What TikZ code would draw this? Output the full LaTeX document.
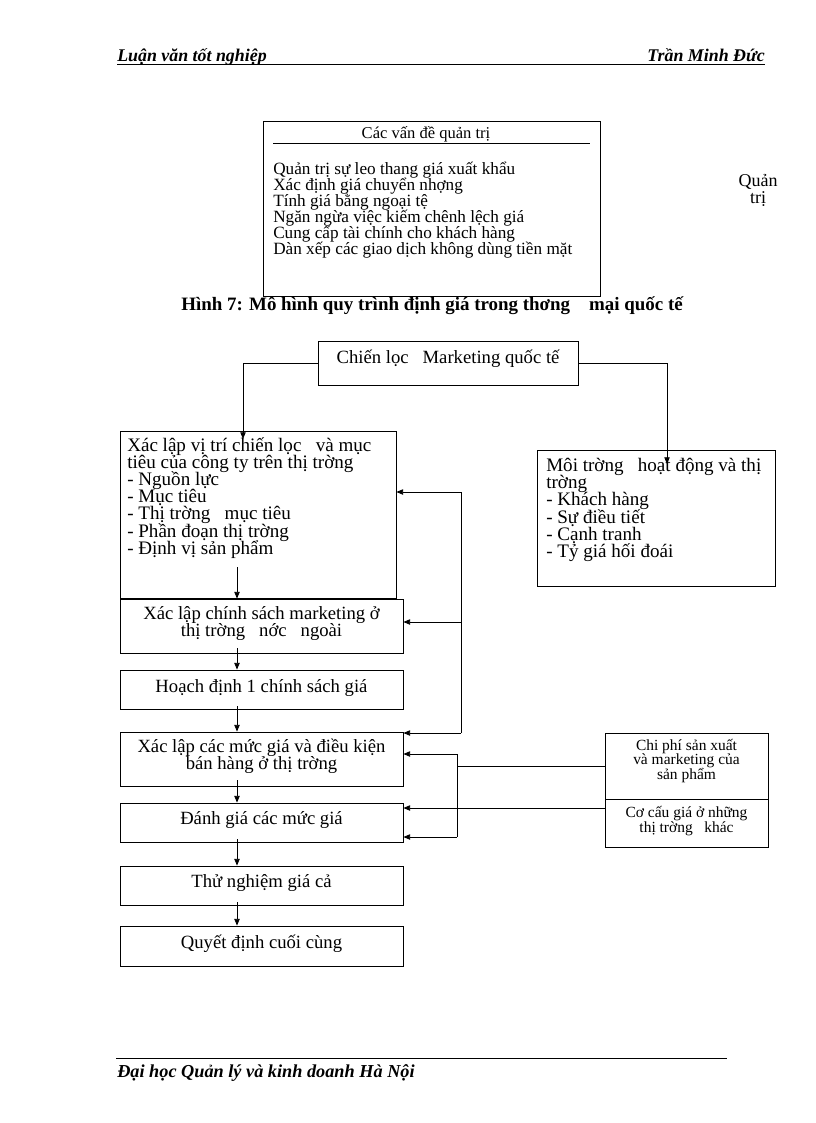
\documentclass[tikz,border=0pt]{standalone}
\usepackage{fontspec}
\setmainfont{Liberation Serif}
\usetikzlibrary{fit,arrows.meta,calc}
\newcommand{\tightlines}{\lineskiplimit=-50pt\lineskip=0pt}
\begin{document}
\begin{tikzpicture}[x=0.75pt,y=-0.75pt,
  bx/.style={draw, line width=0.6pt, inner sep=0pt},
  arr/.style={line width=0.6pt, -{Triangle[length=5pt,width=4pt]}},
  ln/.style={line width=0.6pt},
  txt/.style={inner sep=0pt, align=left, font=\fontsize{14.3}{12.9}\selectfont\tightlines},
  ctxt/.style={inner sep=0pt, align=center, font=\fontsize{14}{12.9}\selectfont\tightlines},
  stxt/.style={inner sep=0pt, align=center, font=\fontsize{11.6}{11.2}\selectfont\tightlines},
  hdr/.style={inner sep=0pt, font=\fontsize{13.4}{15}\selectfont\bfseries\itshape}]
\useasboundingbox (0,0) rectangle (816,1123);

% header and footer
\node[hdr, anchor=base west] (hl) at (117,62) {Luận văn tốt nghiệp};
\node[hdr, anchor=base east] (hr) at (765,62) {Trần Minh Đức};
\draw[line width=0.7pt] (117,64.5) -- (765,64.5);
\draw[line width=0.7pt] (116,1058) -- (727,1058);
\node[hdr, anchor=base west, font=\fontsize{13.7}{15}\selectfont\bfseries\itshape] (ft) at (117,1077) {Đại học Quản lý và kinh doanh Hà Nội};

% top box
\node[bx, fit={(263,121) (600,296)}] (top) {};
\node[inner sep=0pt, font=\fontsize{12.4}{13}\selectfont] (toptitle) at (426,134) {Các vấn đề quản trị};
\draw[ln] (273,143) -- (590,143);
\node[txt, anchor=north west, font=\fontsize{12.9}{12}\selectfont\tightlines] (toplist) at (273,162)
  {Quản trị sự leo thang giá xuất khẩu\\Xác định giá chuyển nhợng\\Tính giá bằng ngoại tệ\\Ngăn ngừa việc kiếm chênh lệch giá\\Cung cấp tài chính cho khách hàng\\Dàn xếp các giao dịch không dùng tiền mặt};
\node[inner sep=0pt, font=\fontsize{13.5}{12}\selectfont] (qt1) at (758,182) {Quản};
\node[inner sep=0pt, font=\fontsize{13.5}{12}\selectfont, anchor=base] (qt2) at (758,204) {trị};

% caption
\node[inner sep=0pt, font=\bfseries\fontsize{14.2}{15}\selectfont] (cap) at (432,306)
  {Hình 7: Mô hình quy trình định giá trong thơng\ \ \ \ mại quốc tế};

% main boxes
\node[bx, fit={(318,341) (578,385)}] (chien) {};
\node[ctxt] (chient) at ($(chien.center)+(0,-4)$) {Chiến lọc\ \ \ Marketing quốc tế};
\node[bx, fit={(120,431) (396,598)}] (b1) {};
\node[txt, anchor=north west] (t1) at (127,437)
  {Xác lập vị trí chiến lọc\ \ \ và mục\\tiêu của công ty trên thị trờng\\- Nguồn lực\\- Mục tiêu\\- Thị trờng\ \ \ mục tiêu\\- Phần đoạn thị trờng\\- Định vị sản phẩm};
\node[bx, fit={(537,450) (775,586)}] (b8) {};
\node[txt, anchor=north west] (t8) at (546,458)
  {Môi trờng\ \ \ hoạt động và thị\\trờng\\- Khách hàng\\- Sự điều tiết\\- Cạnh tranh\\- Tỷ giá hối đoái};

\node[bx, fit={(120,599) (403,653)}] (b2) {};
\node[ctxt] (b2t) at ($(b2.center)+(0,-2.5)$) {Xác lập chính sách marketing ở\\thị trờng\ \ \ nớc\ \ \ ngoài};
\node[bx, fit={(120,670) (403,709)}] (b3) {};
\node[ctxt] (b3t) at ($(b3.center)+(0,-1.5)$) {Hoạch định 1 chính sách giá};
\node[bx, fit={(120,732) (403,786)}] (b4) {};
\node[ctxt] (b4t) at ($(b4.center)+(0,-3)$) {Xác lập các mức giá và điều kiện\\bán hàng ở thị trờng};
\node[bx, fit={(120,803) (403,842)}] (b5) {};
\node[ctxt] (b5t) at ($(b5.center)+(0,-2)$) {Đánh giá các mức giá};
\node[bx, fit={(120,866) (403,905)}] (b6) {};
\node[ctxt] (b6t) at ($(b6.center)+(0,-2)$) {Thử nghiệm giá cả};
\node[bx, fit={(120,926) (403,966)}] (b7) {};
\node[ctxt] (b7t) at ($(b7.center)+(0,-2)$) {Quyết định cuối cùng};

\node[bx, fit={(605,733) (768,799)}] (chi) {};
\node[stxt] (chit) at ($(chi.center)+(0,-5)$) {Chi phí sản xuất\\và marketing\ của\\sản phẩm};
\node[bx, fit={(605,799) (768,847)}] (coco) {};
\node[stxt] (cocot) at ($(coco.center)+(0,-2)$) {Cơ cấu giá ở những\\thị trờng\ \ \ khác};

% connectors from the strategy box
\coordinate (a1) at (243,439);
\coordinate (a2) at (667,464);
\draw[arr] (chien.west) -| (a1);
\draw[arr] (chien.east) -| (a2);

% vertical chain
\coordinate (c1) at (237,567);
\coordinate (vx) at (237,0);
\draw[arr] (c1) -- (c1 |- b2.north);
\draw[arr] ($(vx |- b2.south)+(0,-5)$) -- (vx |- b3.north);
\draw[arr] ($(vx |- b3.south)+(0,-3)$) -- (vx |- b4.north);
\draw[arr] ($(vx |- b4.south)+(0,-6)$) -- (vx |- b5.north);
\draw[arr] ($(vx |- b5.south)+(0,-3)$) -- (vx |- b6.north);
\draw[arr] ($(vx |- b6.south)+(0,-3)$) -- (vx |- b7.north);

% first feedback loop
\coordinate (f1) at (461,492);
\coordinate (f2) at (461,733);
\coordinate (f3) at (461,622);
\draw[arr] (f2) -- (f1) -- (f1 -| b1.east);
\draw[arr] (f3) -- (f3 -| b2.east);
\draw[arr] (f2) -- (f2 -| b4.east);

% second feedback loop
\coordinate (g1) at (457,754);
\coordinate (g2) at (457,837);
\coordinate (g3) at (457,808);
\draw[ln] (g1) -- (g2);
\draw[ln] (chi.west) -- (chi.west -| g1);
\draw[arr] (g1) -- (g1 -| b4.east);
\draw[arr] (g2) -- (g2 -| b5.east);
\draw[arr] (g3 -| coco.west) -- (g3 -| b5.east);
\end{tikzpicture}
\end{document}
